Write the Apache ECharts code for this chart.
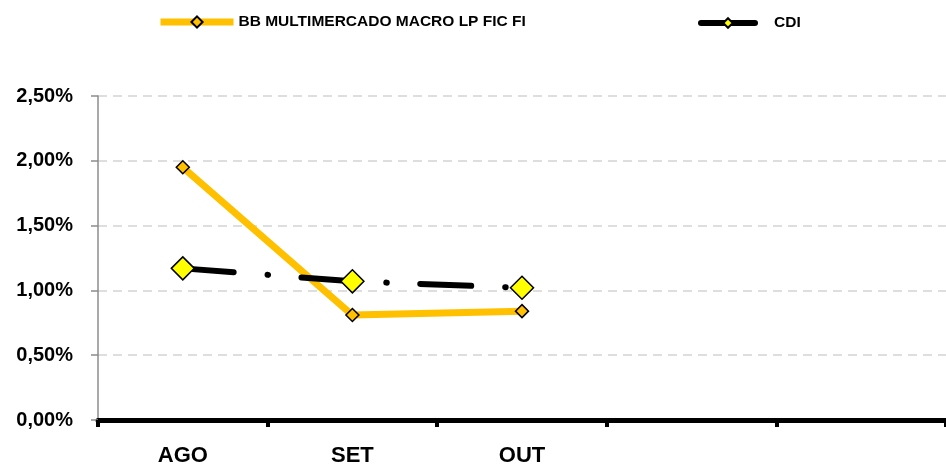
<!DOCTYPE html>
<html>
<head>
<meta charset="utf-8">
<script src="https://cdn.jsdelivr.net/npm/echarts@6/dist/echarts.min.js"></script>
<style>
  html, body { margin: 0; padding: 0; background: #fff; }
  #main { width: 946px; height: 467px; }
</style>
</head>
<body>
<div id="main"></div>
<script>
// meses (as duas últimas categorias ficam vazias, como no original)
var months = ['AGO', 'SET', 'OUT', '', ''];
var fundName = 'BB MULTIMERCADO MACRO LP FIC FI';
var fundValues = [1.95, 0.81, 0.84, null, null];
var cdiValues = [1.17, 1.07, 1.02, null, null];
var yTicks = [0, 0.5, 1, 1.5, 2, 2.5];

var FONT = "'Liberation Sans', Arial, sans-serif";

function pct(v) {
  return v.toFixed(2).replace('.', ',') + '%';
}

var myChart = echarts.init(document.getElementById('main'));
myChart.setOption({
  animation: false,
  backgroundColor: '#fff',
  grid: { left: 98, right: -2, top: 96, bottom: 46 },
  legend: [
    {
      left: 152, top: 9,
      itemWidth: 73, itemHeight: 14,
      data: [{ name: fundName, lineStyle: { width: 7 } }],
      textStyle: { fontFamily: FONT, fontWeight: 'bold', fontSize: 15.5, color: '#000' }
    },
    {
      left: 693, top: 10,
      itemWidth: 54, itemHeight: 12,
      data: [{ name: 'CDI', lineStyle: { type: 'solid', width: 6, cap: 'round' } }],
      textStyle: { fontFamily: FONT, fontWeight: 'bold', fontSize: 15.5, color: '#000', padding: [0, 0, 0, 14] }
    }
  ],
  xAxis: {
    type: 'category',
    data: months,
    axisLine: { lineStyle: { color: '#000', width: 5 } },
    axisTick: { show: true, length: 7, lineStyle: { color: '#000', width: 4 } },
    axisLabel: { margin: 25, fontFamily: FONT, fontWeight: 'bold', fontSize: 22, color: '#000' },
    splitLine: { show: false }
  },
  yAxis: {
    type: 'value',
    min: yTicks[0],
    max: yTicks[yTicks.length - 1],
    interval: yTicks[1] - yTicks[0],
    axisLine: { show: true, lineStyle: { color: '#8c8c8c', width: 1.5 } },
    axisTick: { show: true, length: 7, lineStyle: { color: '#8c8c8c', width: 1.5 } },
    axisLabel: { margin: 25, formatter: pct, fontFamily: FONT, fontWeight: 'bold', fontSize: 20, color: '#000' },
    splitLine: { lineStyle: { color: '#d4d4d4', width: 1.5, type: [9, 6] } }
  },
  series: [
    {
      name: fundName,
      type: 'line',
      data: fundValues,
      symbol: 'diamond',
      symbolSize: 13,
      lineStyle: { color: '#FFC000', width: 7 },
      itemStyle: { color: '#FFC000', borderColor: '#000', borderWidth: 1.5 }
    },
    {
      name: 'CDI',
      type: 'line',
      data: cdiValues,
      symbol: 'diamond',
      symbolSize: 23,
      lineStyle: { color: '#000', width: 6, type: [51, 34, 0.5, 33.5], cap: 'round' },
      itemStyle: { color: '#FFFF00', borderColor: '#000', borderWidth: 1.5 }
    }
  ]
});
</script>
</body>
</html>
